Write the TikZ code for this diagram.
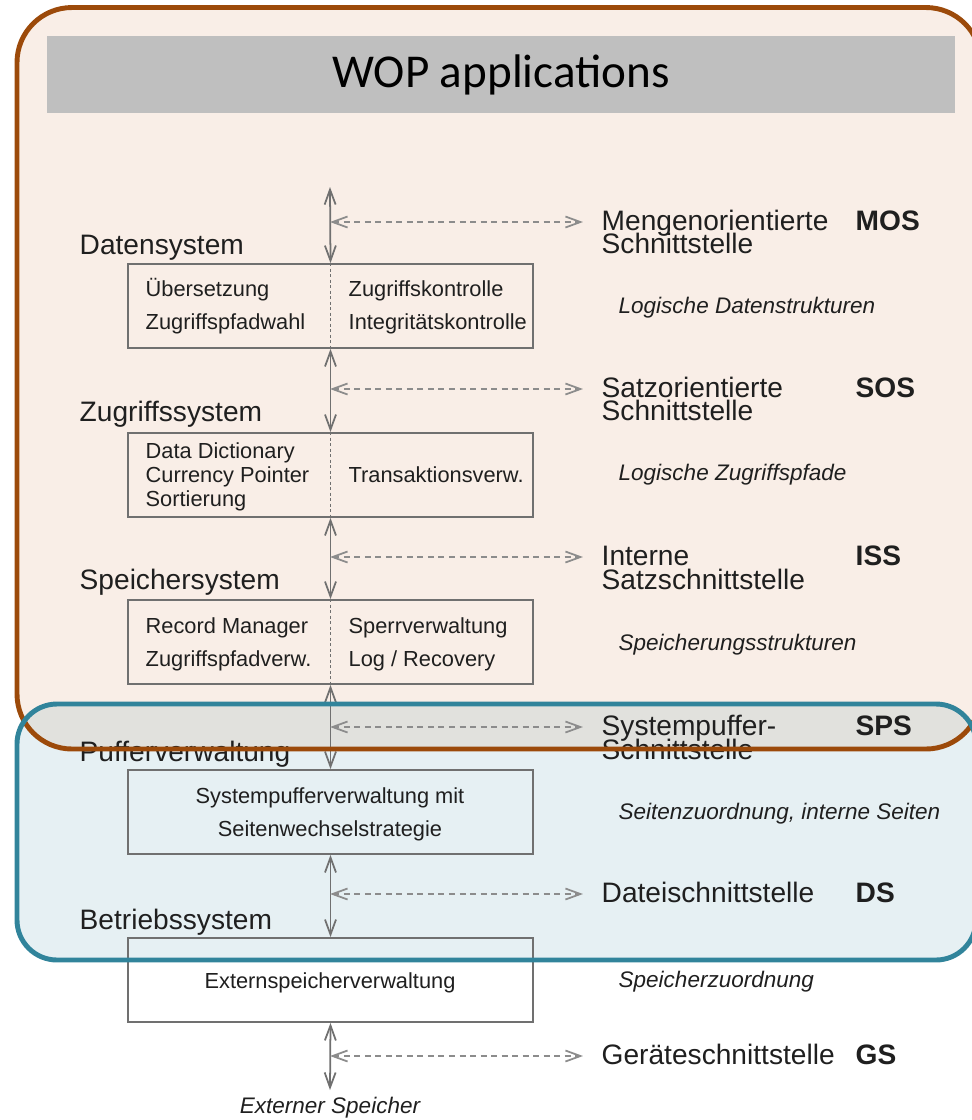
\documentclass[tikz,border=0pt]{standalone}
\usepackage{fontspec}
\setmainfont{Liberation Sans}
\newfontfamily\wopfont{Carlito}
\usetikzlibrary{positioning,arrows.meta}

\definecolor{wopbrown}{HTML}{9C4A0A}
\definecolor{woporange}{HTML}{C55A11}
\definecolor{wopteal}{HTML}{31849B}
\definecolor{wopgray}{HTML}{BFBFBF}
\definecolor{linegray}{HTML}{707070}

\tikzset{
  ifbarb/.tip={Straight Barb[length=0.15cm,width=0.11cm]},
}

\begin{document}
\begin{tikzpicture}[x=0.01cm, y=-0.01cm,
  layerbox/.style={draw=linegray, line width=0.5pt, minimum width=4.05cm, minimum height=0.84cm, inner sep=0pt},
  vline/.style={draw=linegray, line width=0.5pt, ifbarb-ifbarb},
  ifarrow/.style={draw=black!45, line width=0.5pt, dash pattern=on 0.06cm off 0.045cm, ifbarb-ifbarb, shorten >=0.18cm},
  divider/.style={draw=linegray, line width=0.4pt, dash pattern=on 0.03cm off 0.025cm},
  layertitle/.style={anchor=west, inner sep=0pt, font=\fontsize{8}{9.6}\selectfont, text height=5.8pt, text depth=1.7pt, text=black!88},
  iflabel/.style={layertitle},
  ifabbr/.style={layertitle, font=\fontsize{8}{9.6}\selectfont\bfseries},
  boxtext/.style={anchor=west, inner sep=0pt, font=\fontsize{6.2}{7.5}\selectfont, text height=4.6pt, text depth=1.35pt, text=black!88},
  note/.style={boxtext, font=\fontsize{6.4}{7.5}\selectfont\itshape},
]
  \clip (0,0) rectangle (972,1120);
  % Overlay fills
  \fill[woporange, fill opacity=0.1, rounded corners=0.55cm] (17,7.5) rectangle (981,749);
  \fill[wopteal, fill opacity=0.12, rounded corners=0.4cm] (17,704) rectangle (976,960);
  \fill[wopgray] (47,36) rectangle (955,113);
  \node[font=\wopfont\fontsize{13.4}{15}\selectfont, inner sep=0pt] (wop) at (501,75) {WOP applications};
  % Layer boxes
  \foreach \n/\y in {datsys/306, zugsys/475, spsys/642, pufsys/812, betsys/980}
    \node[layerbox] (\n) at (330.5,\y) {};
  % Dashed dividers
  \foreach \n in {datsys, zugsys, spsys}
    \draw[divider] (\n.north) -- (\n.south);
  % Layer titles
  \node[layertitle] (t1) at (79,247) {Datensystem};
  \node[layertitle] (t2) at (79,414) {Zugriffssystem};
  \node[layertitle] (t3) at (79,582) {Speichersystem};
  \node[layertitle] (t4) at (79,754) {Pufferverwaltung};
  \node[layertitle] (t5) at (79,922) {Betriebssystem};
  % Box contents
  \node[boxtext] (b11) at (145,291) {Übersetzung};
  \node[boxtext] (b12) at (145,324) {Zugriffspfadwahl};
  \node[boxtext] (b13) at (348,291) {Zugriffskontrolle};
  \node[boxtext] (b14) at (348,324) {Integritätskontrolle};
  \node[boxtext] (b21) at (145,453) {Data Dictionary};
  \node[boxtext] (b22) at (145,477) {Currency Pointer};
  \node[boxtext] (b23) at (145,501) {Sortierung};
  \node[boxtext] (b24) at (348,477) {Transaktionsverw.};
  \node[boxtext] (b31) at (145,628) {Record Manager};
  \node[boxtext] (b32) at (145,661) {Zugriffspfadverw.};
  \node[boxtext] (b33) at (348,628) {Sperrverwaltung};
  \node[boxtext] (b34) at (348,661) {Log / Recovery};
  \node[boxtext, anchor=center] (b41) at (330,798) {Systempufferverwaltung mit};
  \node[boxtext, anchor=center] (b42) at (330,831) {Seitenwechselstrategie};
  \node[boxtext, anchor=center] (b51) at (330,983) {Externspeicherverwaltung};
  % Vertical connectors
  \coordinate (apps) at (330,187);
  \coordinate (extmem) at (330,1090);
  \draw[vline] (apps) -- (datsys.north);
  \foreach \a/\b in {datsys/zugsys, zugsys/spsys, spsys/pufsys, pufsys/betsys}
    \draw[vline] (\a.south) -- (\b.north);
  \draw[vline] (betsys.south) -- (extmem);
  \node[note, anchor=center] (extlbl) at (330,1108) {Externer Speicher};
  % Interfaces
  \foreach \n/\y/\txt/\abbr in {mos/222/Mengenorientierte/MOS, sos/389/Satzorientierte/SOS,
                                iss/557/Interne/ISS, sps/727/Systempuffer-/SPS,
                                ds/894/Dateischnittstelle/DS, gs/1056/Geräteschnittstelle/GS} {
    \coordinate (\n-l) at (330,\y);
    \node[iflabel] (\n) at (601,\y+1) {\txt};
    \node[ifabbr] (\n-abbr) at (855,\y+1) {\abbr};
    \draw[ifarrow] (\n-l) -- (\n.west |- \n-l);
  }
  \foreach \n/\y/\txt in {mos/246/Schnittstelle, sos/413/Schnittstelle,
                          iss/582/Satzschnittstelle, sps/752/Schnittstelle}
    \node[iflabel] (\n-2) at (601,\y) {\txt};
  % Notes
  \foreach \n/\y/\txt in {n1/308/Logische Datenstrukturen, n2/475/Logische Zugriffspfade,
                          n3/645/Speicherungsstrukturen, n4/814/{Seitenzuordnung, interne Seiten},
                          n5/982/Speicherzuordnung}
    \node[note] (\n) at (618,\y) {\txt};
  % Overlay borders
  \draw[wopbrown, line width=1.4pt, rounded corners=0.55cm] (17,7.5) rectangle (981,749);
  \draw[wopteal, line width=1.4pt, rounded corners=0.4cm] (17,704) rectangle (976,960);
\end{tikzpicture}
\end{document}
